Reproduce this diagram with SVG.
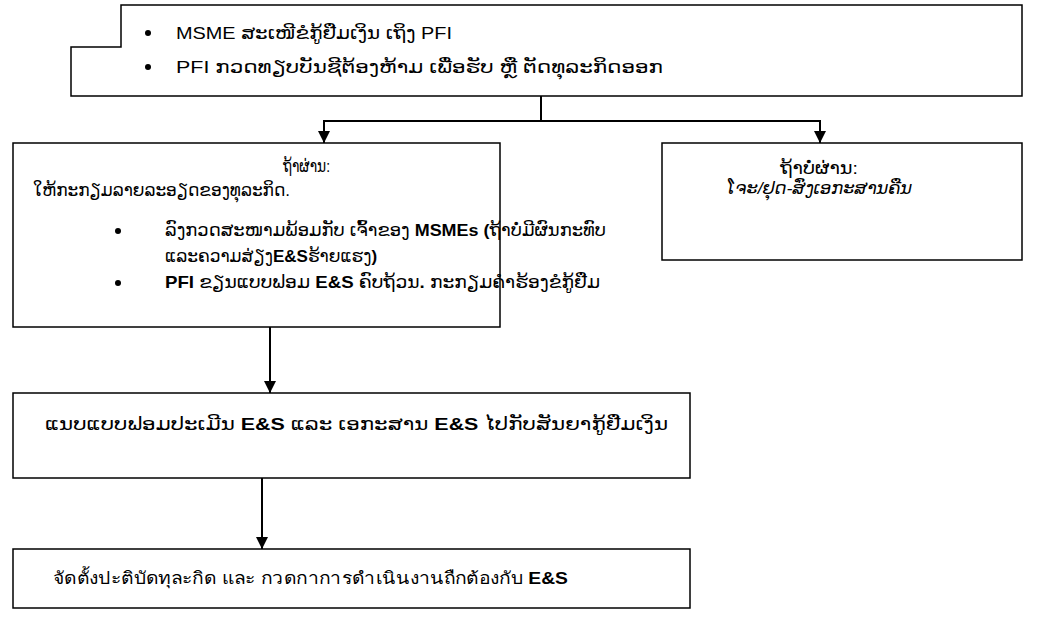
<svg xmlns="http://www.w3.org/2000/svg" width="1046" height="623" viewBox="0 0 1046 623">
<defs>
<marker id="ah" markerWidth="12" markerHeight="12" refX="12" refY="6" orient="auto" markerUnits="userSpaceOnUse">
<path d="M0,0 L12,6 L0,12 Z" fill="#000"/>
</marker>
<style>
.box{fill:#fff;stroke:#000;stroke-width:1.5}
.t{font-family:"Liberation Sans","DejaVu Sans",sans-serif;font-size:17px;fill:#000}
.b{font-weight:bold}
.c{stroke:#000;stroke-width:2;fill:none}
</style>
</defs>
<rect width="1046" height="623" fill="#fff"/>
<g id="n1">
<path class="box" d="M121,5 H1022 V96 H71 V47 H121 Z"/>
<circle cx="148" cy="33" r="3"/>
<text class="t" x="176" y="39" textLength="276" lengthAdjust="spacingAndGlyphs">MSME ສະເໜີຂໍກູ້ຢືມເງິນ ເຖິງ PFI</text>
<circle cx="148" cy="67" r="3"/>
<text class="t" x="176" y="73" textLength="487" lengthAdjust="spacingAndGlyphs">PFI ກວດທຽບບັນຊີຕ້ອງຫ້າມ ເພື່ອຮັບ ຫຼື ຕັດທຸລະກິດອອກ</text>
</g>
<g id="n2">
<rect class="box" x="13" y="143" width="487" height="184"/>
<text class="t" x="283" y="172" textLength="47" lengthAdjust="spacingAndGlyphs">ຖ້າຜ່ານ:</text>
<text class="t" x="33" y="196" textLength="257" lengthAdjust="spacingAndGlyphs">ໃຫ້ກະກຽມລາຍລະອຽດຂອງທຸລະກິດ.</text>
<circle cx="118" cy="231" r="3"/>
<text class="t" x="165" y="236" textLength="441" lengthAdjust="spacingAndGlyphs">ລົງກວດສະໜາມພ້ອມກັບ ເຈົ້າຂອງ <tspan class="b">MSMEs (</tspan>ຖ້າບໍ່ມີຜົນກະທົບ</text>
<text class="t" x="165" y="262">ແລະຄວາມສ່ຽງ<tspan class="b">E&amp;S</tspan>ຮ້າຍແຮງ<tspan class="b">)</tspan></text>
<circle cx="118" cy="283" r="3"/>
<text class="t" x="165" y="288" textLength="435" lengthAdjust="spacingAndGlyphs"><tspan class="b">PFI</tspan> ຂຽນແບບຟອມ <tspan class="b">E&amp;S</tspan> ຄົບຖ້ວນ<tspan class="b">.</tspan> ກະກຽມຄຳຮ້ອງຂໍກູ້ຢືມ</text>
</g>
<g id="n3">
<rect class="box" x="662" y="143" width="360" height="117"/>
<text class="t" x="780" y="174" textLength="78" lengthAdjust="spacingAndGlyphs">ຖ້າບໍ່ຜ່ານ:</text>
<text class="t" x="727" y="194" textLength="185" lengthAdjust="spacingAndGlyphs" font-style="italic">ໂຈະ/ຢຸດ-ສົ່ງເອກະສານຄືນ</text>
</g>
<g id="n4">
<rect class="box" x="13" y="393" width="677" height="85"/>
<text class="t" x="45" y="430" textLength="623" lengthAdjust="spacingAndGlyphs">ແນບແບບຟອມປະເມີນ <tspan class="b">E&amp;S</tspan> ແລະ ເອກະສານ <tspan class="b">E&amp;S</tspan> ໄປກັບສັນຍາກູ້ຢືມເງິນ</text>
</g>
<g id="n5">
<rect class="box" x="13" y="549" width="677" height="59"/>
<text class="t" x="53" y="584" textLength="515" lengthAdjust="spacingAndGlyphs">จัดตั้งปะติบัดทุละกิด และ กวดกาการดำเนินงานถืกต้องกับ <tspan class="b">E&amp;S</tspan></text>
</g>
<g id="connectors">
<path class="c" d="M541,96 V121"/>
<path class="c" d="M323,121 H821"/>
<path class="c" d="M324,121 V143" marker-end="url(#ah)"/>
<path class="c" d="M820,121 V143" marker-end="url(#ah)"/>
<path class="c" d="M270,327 V393" marker-end="url(#ah)"/>
<path class="c" d="M262,478 V549" marker-end="url(#ah)"/>
</g>
</svg>
